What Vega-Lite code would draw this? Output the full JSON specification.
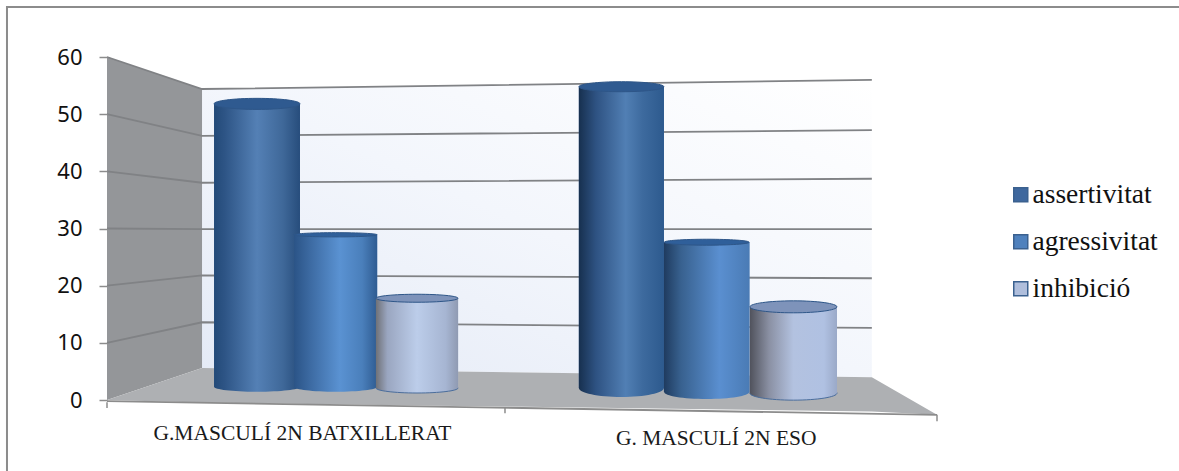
{
  "$schema": "https://vega.github.io/schema/vega-lite/v6.json",
  "width": 830,
  "height": 343,
  "autosize": "none",
  "padding": {"left": 107, "top": 57, "right": 242, "bottom": 71},
  "background": "white",
  "config": {"view": {"stroke": null}},
  "datasets": {
    "bars": [
      {"barra": "b1", "grup": "G.MASCULÍ 2N BATXILLERAT", "serie": "assertivitat", "x0": 0.258, "x1": 0.465, "mig": 0.3615, "base": 2.3, "valor": 51.8},
      {"barra": "b2", "grup": "G.MASCULÍ 2N BATXILLERAT", "serie": "agressivitat", "x0": 0.451, "x1": 0.651, "mig": 0.551, "base": 2.3, "valor": 28.9},
      {"barra": "b3", "grup": "G.MASCULÍ 2N BATXILLERAT", "serie": "inhibició", "x0": 0.648, "x1": 0.846, "mig": 0.747, "base": 2.1, "valor": 17.8},
      {"barra": "b4", "grup": "G. MASCULÍ 2N ESO", "serie": "assertivitat", "x0": 1.137, "x1": 1.342, "mig": 1.2395, "base": 2.1, "valor": 54.8},
      {"barra": "b5", "grup": "G. MASCULÍ 2N ESO", "serie": "agressivitat", "x0": 1.342, "x1": 1.548, "mig": 1.445, "base": 1.4, "valor": 27.6},
      {"barra": "b6", "grup": "G. MASCULÍ 2N ESO", "serie": "inhibició", "x0": 1.549, "x1": 1.759, "mig": 1.654, "base": 1.2, "valor": 16.3}
    ],
    "paretEsquerra": [
      {"x": 0, "dalt": 60, "baix": 0},
      {"x": 0.229, "dalt": 54.4, "baix": 5.6}
    ],
    "paretFons": [
      {"x": 0.229, "dalt": 54.4, "baix": 5.6},
      {"x": 1.843, "dalt": 56, "baix": 4}
    ],
    "terra": [
      {"x": 0, "dalt": 0, "baix": 0},
      {"x": 0.229, "dalt": 5.6, "baix": -0.45},
      {"x": 1.843, "dalt": 4, "baix": -2},
      {"x": 2, "dalt": -2.6, "baix": -2.6}
    ],
    "voraTerra": [
      {"x": 0, "y": -0.2},
      {"x": 2, "y": -2.6}
    ],
    "graella": [
      {"nivell": 60, "x": 0, "y": 60}, {"nivell": 60, "x": 0.229, "y": 54.4}, {"nivell": 60, "x": 1.843, "y": 56},
      {"nivell": 50, "x": 0, "y": 50}, {"nivell": 50, "x": 0.229, "y": 46.2}, {"nivell": 50, "x": 1.843, "y": 47.2},
      {"nivell": 40, "x": 0, "y": 40}, {"nivell": 40, "x": 0.229, "y": 38}, {"nivell": 40, "x": 1.843, "y": 38.7},
      {"nivell": 30, "x": 0, "y": 30}, {"nivell": 30, "x": 0.229, "y": 29.9}, {"nivell": 30, "x": 1.843, "y": 29.9},
      {"nivell": 20, "x": 0, "y": 20}, {"nivell": 20, "x": 0.229, "y": 21.8}, {"nivell": 20, "x": 1.843, "y": 21.3},
      {"nivell": 10, "x": 0, "y": 10}, {"nivell": 10, "x": 0.229, "y": 13.6}, {"nivell": 10, "x": 1.843, "y": 12.6}
    ],
    "marquesX": [
      {"x": 0, "y": -0.4, "y2": -1.4},
      {"x": 0.959, "y": -1.3, "y2": -2.3},
      {"x": 2, "y": -2.6, "y2": -3.7}
    ],
    "etiquetes": [
      {"x": 0.471, "y": -5.95, "grup": "G.MASCULÍ 2N BATXILLERAT"},
      {"x": 1.468, "y": -6.85, "grup": "G. MASCULÍ 2N ESO"}
    ],
    "marc": [
      {"x": -0.241, "x2": 2.8, "y": 68.75, "y2": -13}
    ]
  },
  "layer": [
    {
      "data": {"name": "marc"},
      "mark": {"type": "rect", "fill": "white", "stroke": "#8c8c8c", "strokeWidth": 2, "clip": false},
      "encoding": {
        "x": {"field": "x", "type": "quantitative", "axis": null, "scale": {"domain": [0, 2], "nice": false, "zero": false}},
        "x2": {"field": "x2"},
        "y": {"field": "y", "type": "quantitative", "scale": {"domain": [0, 60], "nice": false, "zero": false},
          "axis": {"title": null, "values": [0, 10, 20, 30, 40, 50, 60], "domain": false, "grid": false, "tickSize": 8, "tickColor": "#8c8c8c", "tickWidth": 1.5, "labelFont": "Noto Sans", "labelFontSize": 22, "labelColor": "#111111", "labelPadding": 17, "zindex": 1}},
        "y2": {"field": "y2"}
      }
    },
    {
      "data": {"name": "paretFons"},
      "mark": {"type": "area", "fill": {"gradient": "linear", "x1": 0, "y1": 1, "x2": 1, "y2": 0, "stops": [{"offset": 0, "color": "#e4eaf6"}, {"offset": 0.5, "color": "#f3f6fc"}, {"offset": 1, "color": "#ffffff"}]}},
      "encoding": {"x": {"field": "x", "type": "quantitative"}, "y": {"field": "dalt", "type": "quantitative"}, "y2": {"field": "baix"}}
    },
    {
      "data": {"name": "paretEsquerra"},
      "mark": {"type": "area", "fill": "#949699"},
      "encoding": {"x": {"field": "x", "type": "quantitative"}, "y": {"field": "dalt", "type": "quantitative"}, "y2": {"field": "baix"}}
    },
    {
      "data": {"name": "terra"},
      "mark": {"type": "area", "fill": "#aeb0b3"},
      "encoding": {"x": {"field": "x", "type": "quantitative"}, "y": {"field": "dalt", "type": "quantitative"}, "y2": {"field": "baix"}}
    },
    {
      "data": {"name": "graella"},
      "mark": {"type": "line", "stroke": "#808285", "strokeWidth": 1.8},
      "encoding": {"x": {"field": "x", "type": "quantitative"}, "y": {"field": "y", "type": "quantitative"}, "detail": {"field": "nivell"}}
    },
    {
      "data": {"name": "voraTerra"},
      "mark": {"type": "line", "stroke": "#8c8c8c", "strokeWidth": 1.8, "clip": false},
      "encoding": {"x": {"field": "x", "type": "quantitative"}, "y": {"field": "y", "type": "quantitative"}}
    },
    {
      "data": {"name": "marquesX"},
      "mark": {"type": "rule", "stroke": "#8c8c8c", "strokeWidth": 1.5, "clip": false},
      "encoding": {"x": {"field": "x", "type": "quantitative"}, "y": {"field": "y", "type": "quantitative"}, "y2": {"field": "y2"}}
    },
    {
      "data": {"name": "bars"},
      "mark": {"type": "rect"},
      "encoding": {
        "x": {"field": "x0", "type": "quantitative"},
        "x2": {"field": "x1"},
        "y": {"field": "valor", "type": "quantitative"},
        "y2": {"field": "base"},
        "color": {"field": "serie", "type": "nominal", "scale": {"domain": ["assertivitat", "agressivitat", "inhibició"], "range": ["#3f689e", "#4f81bd", "#afbedc"]},
          "legend": {"title": null, "orient": "none", "legendX": 900, "legendY": 124, "symbolType": "square", "symbolSize": 196, "symbolStrokeColor": "#3b618f", "symbolStrokeWidth": 1.5, "labelFont": "Liberation Serif", "labelFontSize": 27.5, "labelColor": "#111111", "labelOffset": -2, "rowPadding": 18}}
      }
    },
    {
      "data": {"name": "bars"},
      "transform": [{"filter": "datum.barra === 'b1'"}],
      "layer": [
        {
          "mark": {"type": "point", "filled": true, "opacity": 1, "size": 7225, "shape": "M-1.012,0A1.012,0.118,0,1,1,1.012,0A1.012,0.118,0,1,1,-1.012,0Z",
            "fill": {"gradient": "linear", "x1": 0, "y1": 0, "x2": 1, "y2": 0, "stops": [{"offset": 0, "color": "#234a78"}, {"offset": 0.12, "color": "#2d5485"}, {"offset": 0.5, "color": "#5480b5"}, {"offset": 0.8, "color": "#3f6899"}, {"offset": 1, "color": "#274d7c"}]}},
          "encoding": {"x": {"field": "mig", "type": "quantitative"}, "y": {"field": "base", "type": "quantitative"}}
        },
        {
          "mark": {"type": "rect",
            "fill": {"gradient": "linear", "x1": 0, "y1": 0, "x2": 1, "y2": 0, "stops": [{"offset": 0, "color": "#234a78"}, {"offset": 0.12, "color": "#2d5485"}, {"offset": 0.5, "color": "#5480b5"}, {"offset": 0.8, "color": "#3f6899"}, {"offset": 1, "color": "#274d7c"}]}},
          "encoding": {"x": {"field": "x0", "type": "quantitative"}, "x2": {"field": "x1"}, "y": {"field": "valor", "type": "quantitative"}, "y2": {"field": "base"}}
        },
        {
          "mark": {"type": "point", "filled": true, "opacity": 1, "size": 7225, "fill": "#2f5a90", "stroke": "#2e5688", "strokeWidth": 1, "shape": "M-1.012,0A1.012,0.13,0,1,1,1.012,0A1.012,0.13,0,1,1,-1.012,0Z"},
          "encoding": {"x": {"field": "mig", "type": "quantitative"}, "y": {"field": "valor", "type": "quantitative"}}
        }
      ]
    },
    {
      "data": {"name": "bars"},
      "transform": [{"filter": "datum.barra === 'b2'"}],
      "layer": [
        {
          "mark": {"type": "point", "filled": true, "opacity": 1, "size": 7225, "shape": "M-0.976,0A0.976,0.118,0,1,1,0.976,0A0.976,0.118,0,1,1,-0.976,0Z",
            "fill": {"gradient": "linear", "x1": 0, "y1": 0, "x2": 1, "y2": 0, "stops": [{"offset": 0, "color": "#2b5487"}, {"offset": 0.2, "color": "#3d6ba3"}, {"offset": 0.55, "color": "#5a92d2"}, {"offset": 0.82, "color": "#4a7fbb"}, {"offset": 1, "color": "#2f5c92"}]}},
          "encoding": {"x": {"field": "mig", "type": "quantitative"}, "y": {"field": "base", "type": "quantitative"}}
        },
        {
          "mark": {"type": "rect",
            "fill": {"gradient": "linear", "x1": 0, "y1": 0, "x2": 1, "y2": 0, "stops": [{"offset": 0, "color": "#2b5487"}, {"offset": 0.2, "color": "#3d6ba3"}, {"offset": 0.55, "color": "#5a92d2"}, {"offset": 0.82, "color": "#4a7fbb"}, {"offset": 1, "color": "#2f5c92"}]}},
          "encoding": {"x": {"field": "x0", "type": "quantitative"}, "x2": {"field": "x1"}, "y": {"field": "valor", "type": "quantitative"}, "y2": {"field": "base"}}
        },
        {
          "mark": {"type": "point", "filled": true, "opacity": 1, "size": 7225, "fill": "#2f5f9a", "stroke": "#2e5688", "strokeWidth": 1, "shape": "M-0.976,0A0.976,0.05,0,1,1,0.976,0A0.976,0.05,0,1,1,-0.976,0Z"},
          "encoding": {"x": {"field": "mig", "type": "quantitative"}, "y": {"field": "valor", "type": "quantitative"}}
        }
      ]
    },
    {
      "data": {"name": "bars"},
      "transform": [{"filter": "datum.barra === 'b3'"}],
      "layer": [
        {
          "mark": {"type": "point", "filled": true, "opacity": 1, "size": 7225, "stroke": "#4a6d9c", "strokeWidth": 1, "shape": "M-0.965,0A0.965,0.118,0,1,1,0.965,0A0.965,0.118,0,1,1,-0.965,0Z",
            "fill": {"gradient": "linear", "x1": 0, "y1": 0, "x2": 1, "y2": 0, "stops": [{"offset": 0, "color": "#6f7177"}, {"offset": 0.14, "color": "#9aa6c0"}, {"offset": 0.5, "color": "#bccdea"}, {"offset": 0.85, "color": "#a6b5d2"}, {"offset": 1, "color": "#8f9ab2"}]}},
          "encoding": {"x": {"field": "mig", "type": "quantitative"}, "y": {"field": "base", "type": "quantitative"}}
        },
        {
          "mark": {"type": "rect",
            "fill": {"gradient": "linear", "x1": 0, "y1": 0, "x2": 1, "y2": 0, "stops": [{"offset": 0, "color": "#6f7177"}, {"offset": 0.14, "color": "#9aa6c0"}, {"offset": 0.5, "color": "#bccdea"}, {"offset": 0.85, "color": "#a6b5d2"}, {"offset": 1, "color": "#8f9ab2"}]}},
          "encoding": {"x": {"field": "x0", "type": "quantitative"}, "x2": {"field": "x1"}, "y": {"field": "valor", "type": "quantitative"}, "y2": {"field": "base"}}
        },
        {
          "mark": {"type": "point", "filled": true, "opacity": 1, "size": 7225, "fill": "#7e93ba", "stroke": "#2e5688", "strokeWidth": 1, "shape": "M-0.965,0A0.965,0.094,0,1,1,0.965,0A0.965,0.094,0,1,1,-0.965,0Z"},
          "encoding": {"x": {"field": "mig", "type": "quantitative"}, "y": {"field": "valor", "type": "quantitative"}}
        }
      ]
    },
    {
      "data": {"name": "bars"},
      "transform": [{"filter": "datum.barra === 'b4'"}],
      "layer": [
        {
          "mark": {"type": "point", "filled": true, "opacity": 1, "size": 7225, "shape": "M-1,0A1,0.212,0,1,1,1,0A1,0.212,0,1,1,-1,0Z",
            "fill": {"gradient": "linear", "x1": 0, "y1": 0, "x2": 1, "y2": 0, "stops": [{"offset": 0, "color": "#17304f"}, {"offset": 0.2, "color": "#2e5282"}, {"offset": 0.55, "color": "#517fb4"}, {"offset": 0.75, "color": "#3d6a9e"}, {"offset": 1, "color": "#2d5a8e"}]}},
          "encoding": {"x": {"field": "mig", "type": "quantitative"}, "y": {"field": "base", "type": "quantitative"}}
        },
        {
          "mark": {"type": "rect",
            "fill": {"gradient": "linear", "x1": 0, "y1": 0, "x2": 1, "y2": 0, "stops": [{"offset": 0, "color": "#17304f"}, {"offset": 0.2, "color": "#2e5282"}, {"offset": 0.55, "color": "#517fb4"}, {"offset": 0.75, "color": "#3d6a9e"}, {"offset": 1, "color": "#2d5a8e"}]}},
          "encoding": {"x": {"field": "x0", "type": "quantitative"}, "x2": {"field": "x1"}, "y": {"field": "valor", "type": "quantitative"}, "y2": {"field": "base"}}
        },
        {
          "mark": {"type": "point", "filled": true, "opacity": 1, "size": 7225, "fill": "#2f5a90", "stroke": "#2e5688", "strokeWidth": 1, "shape": "M-1,0A1,0.118,0,1,1,1,0A1,0.118,0,1,1,-1,0Z"},
          "encoding": {"x": {"field": "mig", "type": "quantitative"}, "y": {"field": "valor", "type": "quantitative"}}
        }
      ]
    },
    {
      "data": {"name": "bars"},
      "transform": [{"filter": "datum.barra === 'b5'"}],
      "layer": [
        {
          "mark": {"type": "point", "filled": true, "opacity": 1, "size": 7225, "shape": "M-1,0A1,0.165,0,1,1,1,0A1,0.165,0,1,1,-1,0Z",
            "fill": {"gradient": "linear", "x1": 0, "y1": 0, "x2": 1, "y2": 0, "stops": [{"offset": 0, "color": "#1f3b5f"}, {"offset": 0.2, "color": "#38618f"}, {"offset": 0.65, "color": "#5a8fd0"}, {"offset": 1, "color": "#4a7bb5"}]}},
          "encoding": {"x": {"field": "mig", "type": "quantitative"}, "y": {"field": "base", "type": "quantitative"}}
        },
        {
          "mark": {"type": "rect",
            "fill": {"gradient": "linear", "x1": 0, "y1": 0, "x2": 1, "y2": 0, "stops": [{"offset": 0, "color": "#1f3b5f"}, {"offset": 0.2, "color": "#38618f"}, {"offset": 0.65, "color": "#5a8fd0"}, {"offset": 1, "color": "#4a7bb5"}]}},
          "encoding": {"x": {"field": "x0", "type": "quantitative"}, "x2": {"field": "x1"}, "y": {"field": "valor", "type": "quantitative"}, "y2": {"field": "base"}}
        },
        {
          "mark": {"type": "point", "filled": true, "opacity": 1, "size": 7225, "fill": "#2f5f9a", "stroke": "#2e5688", "strokeWidth": 1, "shape": "M-1,0A1,0.07,0,1,1,1,0A1,0.07,0,1,1,-1,0Z"},
          "encoding": {"x": {"field": "mig", "type": "quantitative"}, "y": {"field": "valor", "type": "quantitative"}}
        }
      ]
    },
    {
      "data": {"name": "bars"},
      "transform": [{"filter": "datum.barra === 'b6'"}],
      "layer": [
        {
          "mark": {"type": "point", "filled": true, "opacity": 1, "size": 7225, "stroke": "#4a6d9c", "strokeWidth": 1, "shape": "M-1.024,0A1.024,0.165,0,1,1,1.024,0A1.024,0.165,0,1,1,-1.024,0Z",
            "fill": {"gradient": "linear", "x1": 0, "y1": 0, "x2": 1, "y2": 0, "stops": [{"offset": 0, "color": "#50525c"}, {"offset": 0.22, "color": "#8a90a3"}, {"offset": 0.5, "color": "#b3c2e0"}, {"offset": 0.85, "color": "#b0c1e2"}, {"offset": 1, "color": "#9aa9c8"}]}},
          "encoding": {"x": {"field": "mig", "type": "quantitative"}, "y": {"field": "base", "type": "quantitative"}}
        },
        {
          "mark": {"type": "rect",
            "fill": {"gradient": "linear", "x1": 0, "y1": 0, "x2": 1, "y2": 0, "stops": [{"offset": 0, "color": "#50525c"}, {"offset": 0.22, "color": "#8a90a3"}, {"offset": 0.5, "color": "#b3c2e0"}, {"offset": 0.85, "color": "#b0c1e2"}, {"offset": 1, "color": "#9aa9c8"}]}},
          "encoding": {"x": {"field": "x0", "type": "quantitative"}, "x2": {"field": "x1"}, "y": {"field": "valor", "type": "quantitative"}, "y2": {"field": "base"}}
        },
        {
          "mark": {"type": "point", "filled": true, "opacity": 1, "size": 7225, "fill": "#7e93ba", "stroke": "#2e5688", "strokeWidth": 1, "shape": "M-1.024,0A1.024,0.141,0,1,1,1.024,0A1.024,0.141,0,1,1,-1.024,0Z"},
          "encoding": {"x": {"field": "mig", "type": "quantitative"}, "y": {"field": "valor", "type": "quantitative"}}
        }
      ]
    },
    {
      "data": {"name": "etiquetes"},
      "mark": {"type": "text", "font": "Liberation Serif", "fontSize": 21.5, "color": "#1a1a1a", "clip": false},
      "encoding": {
        "x": {"field": "x", "type": "quantitative"},
        "y": {"field": "y", "type": "quantitative"},
        "text": {"field": "grup", "type": "nominal"}
      }
    }
  ]
}
